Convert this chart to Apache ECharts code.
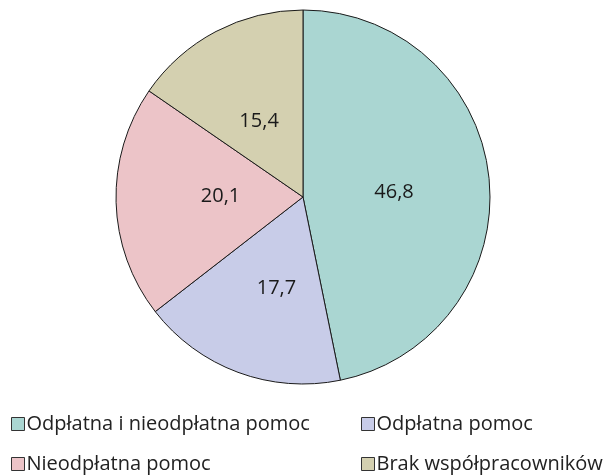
<!DOCTYPE html>
<html>
<head>
    <meta charset="UTF-8">
    <title>Pie</title>
    <script type="text/javascript" src="https://cdn.jsdelivr.net/npm/echarts@6/dist/echarts.min.js"></script>
</head>
<body style="margin:0">
    <div id="main" style="width:612px;height:475px;"></div>
    <script type="text/javascript">
        // dane
        var names = ['Odpłatna i nieodpłatna pomoc', 'Odpłatna pomoc', 'Nieodpłatna pomoc', 'Brak współpracowników'];
        var values = [46.8, 17.7, 20.1, 15.4];

        // wygląd
        var colors = ['#aad6d2', '#c8cce8', '#ecc4c8', '#d4d0b0'];
        var labelShift = [[-5, 5], [7, 1], [14, -3], [1, 10]];  // przesunięcie etykiet jak w oryginale

        var data = [];
        for (var i = 0; i < names.length; i++) {
            data.push({
                name: names[i],
                value: values[i],
                itemStyle: { color: colors[i] },
                label: { offset: labelShift[i] }
            });
        }

        var font = '"Open Sans", "Noto Sans", sans-serif';
        var legendBase = {
            orient: 'vertical',
            top: 413,
            itemWidth: 13,
            itemHeight: 13,
            itemGap: 18,
            icon: 'rect',
            itemStyle: { borderColor: '#333', borderWidth: 1 },
            textStyle: { fontFamily: font, fontSize: 20, color: '#222', lineHeight: 22, padding: [0, 0, 0, -3] },
            padding: 0
        };

        var myChart = echarts.init(document.getElementById('main'));
        myChart.setOption({
            animation: false,
            legend: [
                Object.assign({}, legendBase, { left: 11, data: [names[0], names[2]] }),
                Object.assign({}, legendBase, { left: 361, data: [names[1], names[3]] })
            ],
            series: [{
                type: 'pie',
                center: [303, 197],
                radius: 187,
                startAngle: 90,
                clockwise: true,
                silent: true,
                itemStyle: { borderColor: '#1a1a1a', borderWidth: 1 },
                label: {
                    show: true,
                    position: 'inside',
                    fontFamily: font,
                    fontSize: 20,
                    color: '#1a1a1a',
                    formatter: function (p) { return String(p.value).replace('.', ','); }
                },
                labelLine: { show: false },
                data: data
            }]
        });
    </script>
</body>
</html>
